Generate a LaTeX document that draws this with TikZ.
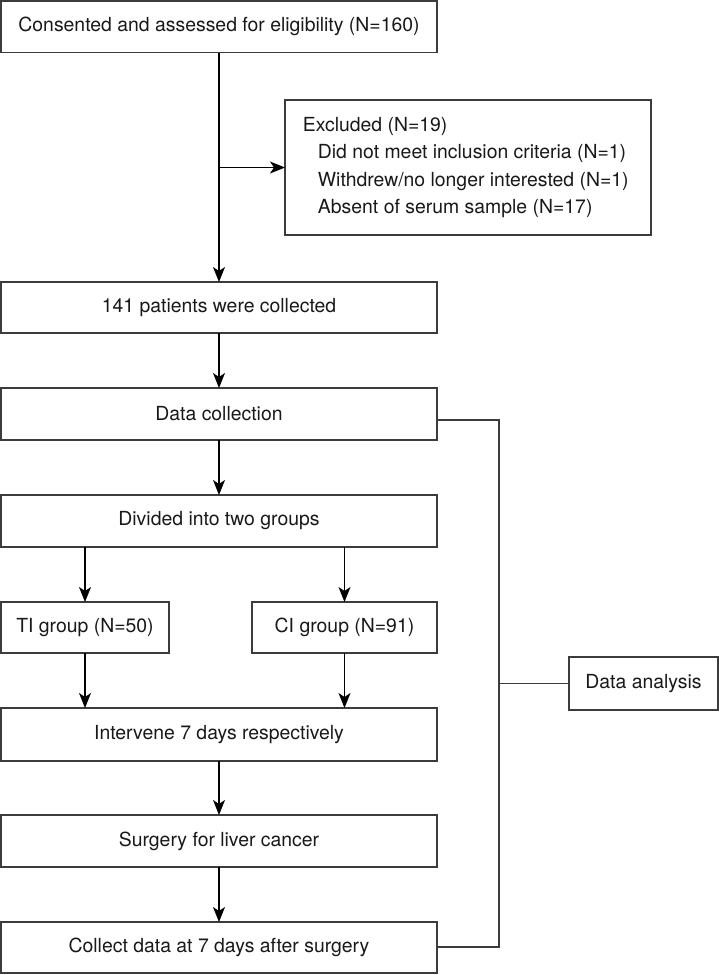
\documentclass[tikz,border=0pt]{standalone}
\usepackage{fontspec}
\setmainfont{TeX Gyre Heros}
\usetikzlibrary{arrows.meta}
\definecolor{edge}{RGB}{60,60,60}
\definecolor{ink}{RGB}{25,25,25}
\tikzset{
  box/.style={draw=edge, line width=1.3pt, fill=white, inner sep=0pt, outer sep=0pt,
    text=ink, font=\fontsize{19.4}{23}\selectfont},
  arr/.style={draw=black, line width=1.4pt, -{Stealth[length=15pt,width=12pt,inset=4pt]}},
  plain/.style={draw=edge, line width=1.1pt},
}
\begin{document}
\begin{tikzpicture}[x=1pt,y=-1pt]
\useasboundingbox (0,0) rectangle (719,975);
\node[box, minimum width=436pt, minimum height=51.5pt] (b1) at (219,26.75) {Consented and assessed for eligibility (N=160)};
\node[box, minimum width=366pt, minimum height=135pt] (excl) at (468,167.5) {};
\node[anchor=west, align=left, inner sep=0pt, text=ink, font=\fontsize{19.4}{27.6}\selectfont] (excltxt) at (302.7,167.5)
  {Excluded (N=19)\\\hspace*{15pt}Did not meet inclusion criteria (N=1)\\\hspace*{15pt}Withdrew/no longer interested (N=1)\\\hspace*{15pt}Absent of serum sample (N=17)};
\node[box, minimum width=436pt, minimum height=51pt] (b141) at (219,307.5) {141 patients were collected};
\node[box, minimum width=436pt, minimum height=52pt] (dc) at (219,414) {Data collection};
\node[box, minimum width=436pt, minimum height=52pt] (div) at (219,521) {Divided into two groups};
\node[box, minimum width=168pt, minimum height=51pt] (ti) at (85,627.5) {TI group (N=50)};
\node[box, minimum width=185pt, minimum height=51pt] (ci) at (344.5,627.5) {CI group (N=91)};
\node[box, minimum width=436pt, minimum height=53pt] (iv) at (219,734.5) {Intervene 7 days respectively};
\node[box, minimum width=436pt, minimum height=52pt] (su) at (219,841) {Surgery for liver cancer};
\node[box, minimum width=436pt, minimum height=51pt] (cd) at (219,947.5) {Collect data at 7 days after surgery};
\node[box, minimum width=149pt, minimum height=53pt] (da) at (643.5,683.5) {Data analysis};
\coordinate (j1) at (499,420);
\coordinate (j2) at (499,947);
\draw[arr] (b1) -- (b141);
\draw[arr] (b1.south |- excl.west) -- (excl.west);
\draw[arr] (b141) -- (dc);
\draw[arr] (dc) -- (div);
\draw[arr] (div.south -| ti.north) -- (ti.north);
\draw[arr] (div.south -| ci.north) -- (ci.north);
\draw[arr] (ti.south) -- (iv.north -| ti.south);
\draw[arr] (ci.south) -- (iv.north -| ci.south);
\draw[arr] (iv) -- (su);
\draw[arr] (su) -- (cd);
\draw[plain] (dc.east |- j1) -- (j1) -- (j2) -- (cd.east |- j2);
\draw[plain] (j1 |- da.west) -- (da.west);
\end{tikzpicture}
\end{document}
